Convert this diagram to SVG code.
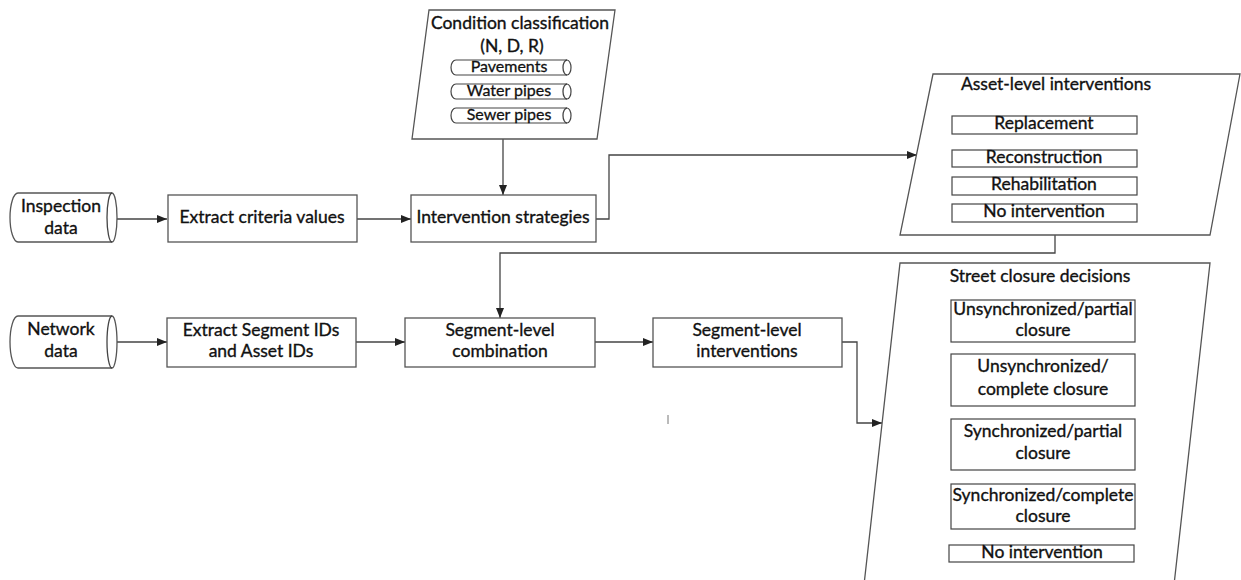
<svg xmlns="http://www.w3.org/2000/svg" width="1241" height="580" viewBox="0 0 1241 580">
<defs>
<marker id="arr" viewBox="0 0 10 8" refX="10" refY="4" markerWidth="10" markerHeight="8" markerUnits="userSpaceOnUse" orient="auto">
<path d="M0,0 L10,4 L0,8 Z" fill="#222"/>
</marker>
<style>
.s{fill:#fff;stroke:#555;stroke-width:1.3}
.i{fill:#fff;stroke:#444;stroke-width:1.2}
.c{fill:none;stroke:#444;stroke-width:1.3}
.t{font-family:Lato,"Liberation Sans",Arial,sans-serif;font-size:17.5px;fill:#111;stroke:#111;stroke-width:0.35;text-anchor:middle;dominant-baseline:middle}
.ts{font-family:Lato,"Liberation Sans",Arial,sans-serif;font-size:17.5px;fill:#111;stroke:#111;stroke-width:0.35;text-anchor:middle;dominant-baseline:middle}
.tp{font-family:Lato,"Liberation Sans",Arial,sans-serif;font-size:16px;fill:#111;stroke:#111;stroke-width:0.3;text-anchor:middle;dominant-baseline:middle}
</style>
</defs>
<rect width="1241" height="580" fill="#fff"/>

<g id="connectors">
<path class="c" d="M117,219 L167,219" marker-end="url(#arr)"/>
<path class="c" d="M357,219 L411,219" marker-end="url(#arr)"/>
<path class="c" d="M503,139 L503,195" marker-end="url(#arr)"/>
<path class="c" d="M596,219 L609,219 L609,155 L917,155" marker-end="url(#arr)"/>
<path class="c" d="M1055,235 L1055,253 L500,253 L500,318" marker-end="url(#arr)"/>
<path class="c" d="M117,342 L167,342" marker-end="url(#arr)"/>
<path class="c" d="M356,342 L405,342" marker-end="url(#arr)"/>
<path class="c" d="M595,342 L653,342" marker-end="url(#arr)"/>
<path class="c" d="M842,342 L857,342 L857,423 L882,423" marker-end="url(#arr)"/>
</g>

<g id="inspection-data">
<path class="s" d="M18,193 L112,193 A5,24.5 0 0 1 112,242 L18,242 A8,24.5 0 0 1 18,193 Z"/>
<path class="c" d="M112,193 A5,24.5 0 0 0 112,242"/>
<text class="t" x="61" y="208">Inspection</text>
<text class="t" x="61" y="230">data</text>
</g>

<g id="extract-criteria">
<rect class="s" x="168" y="195" width="189" height="47"/>
<text class="t" x="262" y="219">Extract criteria values</text>
</g>

<g id="condition-classification">
<path class="s" d="M429,10 L615,10 L597,139 L412,139 Z"/>
<text class="t" x="520" y="25">Condition classification</text>
<text class="t" x="512" y="48">(N, D, R)</text>
<path class="i" d="M456,60 L567,60 A4,7.5 0 0 1 567,75 L456,75 A5,7.5 0 0 1 456,60 Z"/>
<path class="c" d="M567,60 A4,7.5 0 0 0 567,75"/>
<text class="tp" x="509" y="68">Pavements</text>
<path class="i" d="M456,84 L567,84 A4,7.5 0 0 1 567,99 L456,99 A5,7.5 0 0 1 456,84 Z"/>
<path class="c" d="M567,84 A4,7.5 0 0 0 567,99"/>
<text class="tp" x="509" y="92">Water pipes</text>
<path class="i" d="M456,108 L567,108 A4,7.5 0 0 1 567,123 L456,123 A5,7.5 0 0 1 456,108 Z"/>
<path class="c" d="M567,108 A4,7.5 0 0 0 567,123"/>
<text class="tp" x="509" y="116">Sewer pipes</text>
</g>

<g id="intervention-strategies">
<rect class="s" x="411" y="195" width="185" height="47"/>
<text class="t" x="503" y="219">Intervention strategies</text>
</g>

<g id="asset-level-interventions">
<path class="s" d="M933,74 L1240,74 L1210,235 L900,235 Z"/>
<text class="t" x="1056" y="86">Asset-level interventions</text>
<rect class="i" x="952" y="116" width="185" height="18"/>
<text class="ts" x="1044" y="125">Replacement</text>
<rect class="i" x="952" y="150" width="185" height="17"/>
<text class="ts" x="1044" y="158.5">Reconstruction</text>
<rect class="i" x="952" y="177" width="185" height="18"/>
<text class="ts" x="1044" y="186">Rehabilitation</text>
<rect class="i" x="952" y="204" width="185" height="18"/>
<text class="ts" x="1044" y="213">No intervention</text>
</g>

<g id="network-data">
<path class="s" d="M18,316 L112,316 A5,26 0 0 1 112,368 L18,368 A8,26 0 0 1 18,316 Z"/>
<path class="c" d="M112,316 A5,26 0 0 0 112,368"/>
<text class="t" x="61" y="331">Network</text>
<text class="t" x="61" y="353">data</text>
</g>

<g id="extract-segment-ids">
<rect class="s" x="167" y="318" width="189" height="49"/>
<text class="t" x="261" y="332">Extract Segment IDs</text>
<text class="t" x="261" y="353">and Asset IDs</text>
</g>

<g id="segment-level-combination">
<rect class="s" x="405" y="318" width="190" height="49"/>
<text class="t" x="500" y="332">Segment-level</text>
<text class="t" x="500" y="353">combination</text>
</g>

<g id="segment-level-interventions">
<rect class="s" x="653" y="318" width="189" height="49"/>
<text class="t" x="747" y="332">Segment-level</text>
<text class="t" x="747" y="353">interventions</text>
</g>

<line x1="668" y1="415" x2="668" y2="424" stroke="#777" stroke-width="1"/>

<g id="street-closure-decisions">
<path class="s" d="M900,263 L1210,263 L1174,585 L864,585 Z"/>
<text class="t" x="1040" y="278">Street closure decisions</text>
<rect class="i" x="951" y="300" width="184" height="42"/>
<text class="ts" x="1043" y="311">Unsynchronized/partial</text>
<text class="ts" x="1043" y="332">closure</text>
<rect class="i" x="951" y="354" width="184" height="52"/>
<text class="ts" x="1043" y="368">Unsynchronized/</text>
<text class="ts" x="1043" y="391">complete closure</text>
<rect class="i" x="951" y="419" width="184" height="51"/>
<text class="ts" x="1043" y="433">Synchronized/partial</text>
<text class="ts" x="1043" y="455">closure</text>
<rect class="i" x="951" y="484" width="184" height="45"/>
<text class="ts" x="1043" y="497">Synchronized/complete</text>
<text class="ts" x="1043" y="518">closure</text>
<rect class="i" x="949" y="545" width="185" height="17"/>
<text class="ts" x="1042" y="553.5">No intervention</text>
</g>
</svg>
